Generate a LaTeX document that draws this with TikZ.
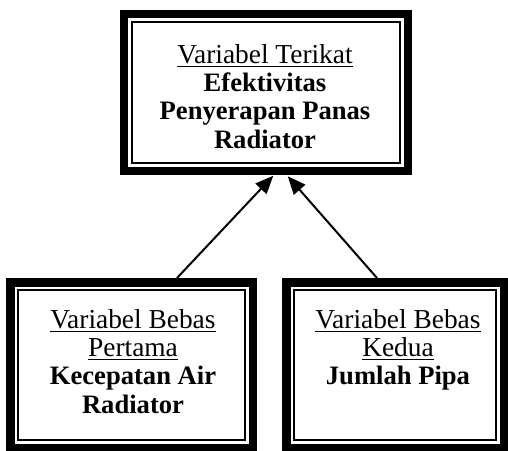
\documentclass[tikz,border=0pt]{standalone}
\usepackage{fontspec}
\setmainfont{Liberation Serif}
\usetikzlibrary{arrows.meta,calc}
% underlined heading line, set slightly larger than the bold lines
\newcommand{\headline}[1]{{\fontsize{13.7}{14}\selectfont\mdseries\underline{#1}}}
\begin{document}
\begin{tikzpicture}[x=0.5pt,y=-0.5pt,
  framebox/.style={draw=black,line width=4.25pt,inner sep=0pt,outer sep=0pt,rectangle},
  innerframe/.style={draw=black,line width=1pt},
  boxtext/.style={align=center,inner sep=0pt,anchor=north,font=\fontsize{13.3}{14.1}\selectfont\bfseries},
  link/.style={line width=1pt,-{Triangle[length=9pt,width=7.5pt]}}]
\useasboundingbox (0,0) rectangle (508,450);
% outer thick frames
\node[framebox,minimum width=142pt,minimum height=78.5pt] (tb) at (265.75,92.25) {};
\node[framebox,minimum width=121.25pt,minimum height=82.75pt] (lb) at (131.5,365) {};
\node[framebox,minimum width=108.75pt,minimum height=82.75pt] (rb) at (395,365) {};
% thin inner frames
\foreach \b in {tb,lb,rb}
  \draw[innerframe] ([shift={(8,8)}]\b.north west) rectangle ([shift={(-8,-8)}]\b.south east);
% texts
\node[boxtext] (tt) at (265,44) {\headline{Variabel Terikat}\\ Efektivitas\\ Penyerapan Panas\\ Radiator};
\node[boxtext] (lt) at (133,309) {\headline{Variabel Bebas}\\ \headline{Pertama}\\ Kecepatan Air\\ Radiator};
\node[boxtext] (rt) at (398,309) {\headline{Variabel Bebas}\\ \headline{Kedua}\\ Jumlah Pipa};
% arrows
\draw[link] ($(lb.north)+(45.5,-4.25)$) -- ($(tb.south)+(7.5,5)$);
\draw[link] ($(rb.north)+(-18,-4.25)$) -- ($(tb.south)+(22,5.5)$);
\end{tikzpicture}
\end{document}
